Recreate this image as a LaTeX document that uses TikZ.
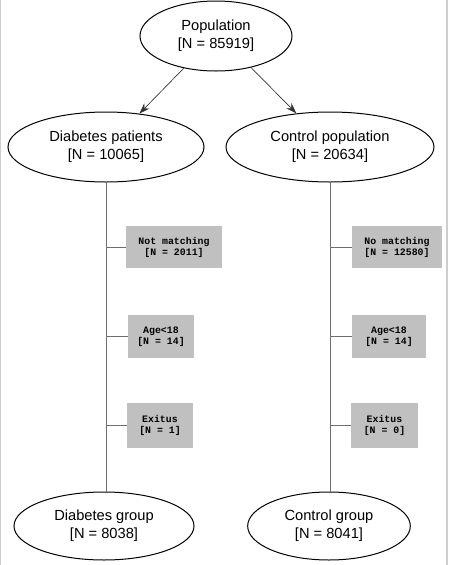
\documentclass[tikz,border=0pt]{standalone}
\usepackage{fontspec}
\setmainfont{Liberation Sans}
\newfontfamily\boxfont{Liberation Mono}
\definecolor{boxgray}{RGB}{192,192,192}
\definecolor{linegray}{RGB}{110,110,110}
\definecolor{framegray}{RGB}{205,205,205}
\usetikzlibrary{arrows.meta,positioning,shapes.geometric,calc}

\begin{document}
\begin{tikzpicture}[
  x=0.75pt,y=-0.75pt,
  groupnode/.style={draw,ellipse,line width=0.75pt,inner sep=0pt,minimum height=52.5pt,
    align=center,font=\fontsize{11}{13.5}\selectfont},
  exclbox/.style={fill=boxgray,inner sep=0pt,minimum height=32pt,align=center,
    font=\boxfont\bfseries\fontsize{7.4}{8.3}\selectfont},
  flow/.style={-{Stealth[length=8pt,width=5.5pt]},line width=0.5pt,black!80},
  branch/.style={line width=0.6pt,linegray},
]
  \useasboundingbox (0,0) rectangle (449,565);
  \draw[framegray,line width=0.8pt] (0.5,0) -- (0.5,565) (447,0) -- (447,565);

  % Top
  \node[groupnode,minimum width=114pt] (pop) at (216,36) {Population\\{}[N = 85919]};

  % Cohorts
  \node[groupnode,minimum width=147pt] (diab) at (106,147) {Diabetes patients\\{}[N = 10065]};
  \node[groupnode,minimum width=156pt] (ctrl) at (330,147) {Control population\\{}[N = 20634]};

  \draw[flow] (pop.225) -- (diab.45);
  \draw[flow] (pop.-42) -- (ctrl.135);

  % Final groups
  \node[groupnode,minimum width=135pt,minimum height=51pt] (diabgrp) at (104,526) {Diabetes group\\{}[N = 8038]};
  \node[groupnode,minimum width=122pt,minimum height=51pt] (ctrlgrp) at (329,526) {Control group\\{}[N = 8041]};

  % Exclusions, diabetes side
  \node[exclbox,minimum width=72pt] (dnm) at (174,247) {Not matching\\{}[N = 2011]};
  \node[exclbox,minimum width=49.5pt] (dage) at (161,336.5) {Age<18\\{}[N = 14]};
  \node[exclbox,minimum width=49.5pt,minimum height=34pt] (dexit) at (160,425.5) {Exitus\\{}[N = 1]};

  % Exclusions, control side
  \node[exclbox,minimum width=67.5pt] (cnm) at (397,247) {No matching\\{}[N = 12580]};
  \node[exclbox,minimum width=55.5pt] (cage) at (389,336.5) {Age<18\\{}[N = 14]};
  \node[exclbox,minimum width=50pt,minimum height=34pt] (cexit) at (384.5,425.5) {Exitus\\{}[N = 0]};

  % Branch lines
  \draw[branch] (diab.south) -- (diab.south |- diabgrp.north);
  \draw[branch] (ctrl.south) -- (ctrl.south |- ctrlgrp.north);
  \foreach \b in {dnm,dage,dexit}
    \draw[branch] (diab.south |- \b.west) -- (\b.west);
  \foreach \b in {cnm,cage,cexit}
    \draw[branch] (ctrl.south |- \b.west) -- (\b.west);
\end{tikzpicture}
\end{document}
